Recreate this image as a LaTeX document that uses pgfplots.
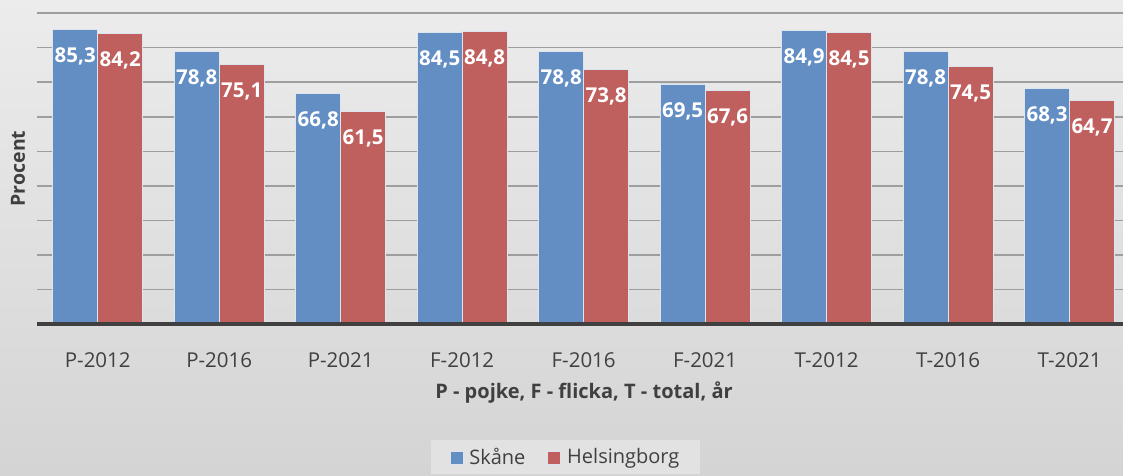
\documentclass[border=0pt]{standalone}
\usepackage{fontspec}
\setmainfont{Open Sans}
\usepackage{pgfplots}
\pgfplotsset{compat=1.18}
\definecolor{cblue}{RGB}{98,142,196}
\definecolor{cred}{RGB}{192,96,94}
\definecolor{gridc}{RGB}{158,158,158}
\definecolor{txt}{RGB}{64,64,64}
\definecolor{bgtop}{RGB}{236,236,236}
\definecolor{bgbot}{RGB}{212,212,212}
\definecolor{legbg}{RGB}{226,226,226}
\definecolor{barline}{RGB}{222,228,238}
\begin{document}
\begin{tikzpicture}
\useasboundingbox (0pt,0pt) rectangle (1123pt,475pt);
\clip (0pt,0pt) rectangle (1123pt,475pt);
\shade[top color=bgtop, bottom color=bgbot] (0pt,0pt) rectangle (1123pt,475pt);
\begin{axis}[
  at={(37pt,151pt)}, anchor=south west,
  scale only axis, width=1086pt, height=324pt,
  ybar=0pt, bar width=0.37,
  xmin=-0.5, xmax=8.44, ymin=0, ymax=93.8,
  xtick=data,
  xticklabels={P-2012,P-2016,P-2021,F-2012,F-2016,F-2021,T-2012,T-2016,T-2021},
  xticklabel style={font=\fontsize{20.5}{24}\selectfont, text=txt, anchor=base, yshift=-39pt},
  ytick={10,20,...,90}, yticklabels={},
  ymajorgrids, major grid style={gridc, line width=1.5pt},
  axis line style={draw=none}, tick style={draw=none},
  xlabel={P - pojke, F - flicka, T - total, år},
  xlabel style={at={(axis description cs:0.5037,-0.213)}, anchor=center, font=\fontsize{20}{24}\selectfont\bfseries, text=txt},
  ylabel={Procent},
  ylabel style={at={(axis description cs:-0.0175,0.48)}, anchor=center, font=\fontsize{19.5}{23}\selectfont\bfseries, text=txt},
  nodes near coords={\pgfmathprintnumber[fixed,fixed zerofill,precision=1,use comma,assume math mode=true]{\pgfplotspointmeta}},
  nodes near coords style={font=\fontsize{20.5}{24}\selectfont\bfseries, text=white, anchor=center, yshift=-27pt},
  legend style={at={(0.4866,-0.358)}, anchor=north, fill=legbg, draw=none,
    font=\fontsize{20}{24}\selectfont, text=txt, legend columns=2,
    /tikz/every odd column/.append style={column sep=4pt},
    /tikz/every even column/.append style={column sep=20pt},
    inner xsep=19pt, inner ysep=6pt},
  legend image code/.code={\fill[#1] (0pt,-7pt) rectangle (13pt,6pt);},
  clip=false,
]
\addplot[fill=cblue, draw=barline, line width=0.8pt] coordinates {(0,85.3) (1,78.8) (2,66.8) (3,84.5) (4,78.8) (5,69.5) (6,84.9) (7,78.8) (8,68.3)};
\addplot[fill=cred, draw=barline, line width=0.8pt] coordinates {(0,84.2) (1,75.1) (2,61.5) (3,84.8) (4,73.8) (5,67.6) (6,84.5) (7,74.5) (8,64.7)};
\legend{Skåne, Helsingborg}
\draw[line width=3.5pt, color=txt] (axis cs:-0.5,0) -- (axis cs:8.44,0);
\end{axis}
\end{tikzpicture}
\end{document}
